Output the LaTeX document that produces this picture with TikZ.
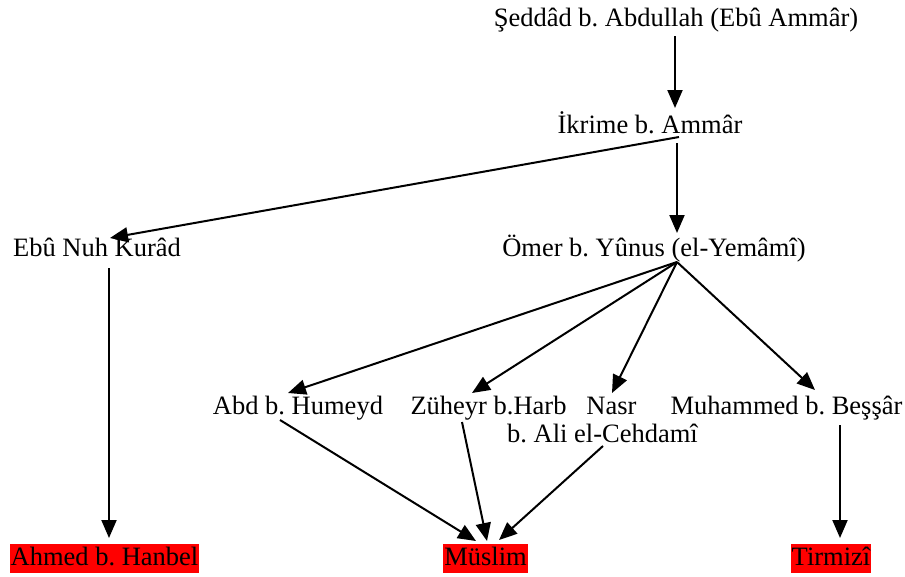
\documentclass[tikz,border=0pt]{standalone}
\usepackage{fontspec}
\setmainfont{Liberation Serif}
\usetikzlibrary{arrows.meta}
\begin{document}
\frenchspacing
\begin{tikzpicture}[x=1pt,y=-1pt,
  lbl/.style={anchor=base,inner sep=0pt,font=\fontsize{26.5}{30}\selectfont},
  hl/.style={lbl,fill=red,inner xsep=1pt,text height=20pt,text depth=6pt,inner ysep=1.5pt},
  arr/.style={line width=2pt,-{Triangle[length=18pt,width=15pt]}}]
\useasboundingbox (0,0) rectangle (905,576);
\node[lbl] (sed) at (676,26) {Şeddâd b. Abdullah (Ebû Ammâr)};
\node[lbl] (ikr) at (650,133) {İkrime b. Ammâr};
\node[lbl] (ebu) at (97,256) {Ebû Nuh Kurâd};
\node[lbl] (omer) at (654,256) {Ömer b. Yûnus (el-Yemâmî)};
\node[lbl] (abd) at (298,414) {Abd b. Humeyd};
\node[lbl] (zuh) at (488.5,414) {Züheyr b.Harb};
\node[lbl] (nasr) at (611.5,414) {Nasr};
\node[lbl] (nasrb) at (602.5,442) {b. Ali el-Cehdamî};
\node[lbl] (muh) at (786.5,414) {Muhammed b. Beşşâr};
\node[hl] (ahmed) at (104.5,565) {Ahmed b. Hanbel};
\node[hl] (muslim) at (485.5,565) {Müslim};
\node[hl] (tir) at (831,565) {Tirmizî};

\draw[arr] ([shift={(-1,10)}]sed.base) -- ([shift={(25,-25)}]ikr.base);
\draw[arr] ([shift={(29,4)}]ikr.base) -- ([shift={(13,-18)}]ebu.base);
\draw[arr] ([shift={(27,10)}]ikr.base) -- ([shift={(23,-23)}]omer.base);
\draw[arr] ([shift={(23,6)}]omer.base) -- ([shift={(-10,-21)}]abd.base);
\draw[arr] ([shift={(23,6)}]omer.base) -- ([shift={(-16.5,-21)}]zuh.base);
\draw[arr] ([shift={(23,6)}]omer.base) -- ([shift={(0.5,-21)}]nasr.base);
\draw[arr] ([shift={(23,6)}]omer.base) -- ([shift={(28.5,-24)}]muh.base);
\draw[arr] ([shift={(-18,6)}]abd.base) -- ([shift={(-9.5,-24)}]muslim.base);
\draw[arr] ([shift={(-26.5,8)}]zuh.base) -- ([shift={(1.5,-24)}]muslim.base);
\draw[arr] ([shift={(0.5,4)}]nasrb.base) -- ([shift={(13.5,-25)}]muslim.base);
\draw[arr] ([shift={(12,12)}]ebu.base) -- ([shift={(4.5,-27)}]ahmed.base);
\draw[arr] ([shift={(53.5,11)}]muh.base) -- ([shift={(9,-27)}]tir.base);
\end{tikzpicture}
\end{document}
